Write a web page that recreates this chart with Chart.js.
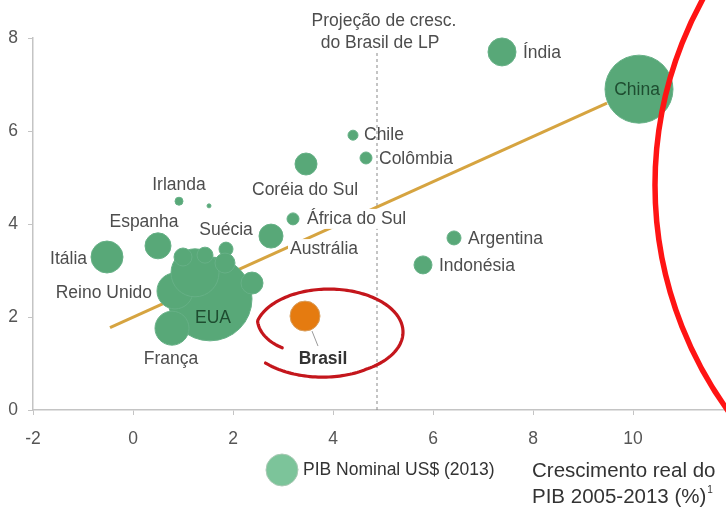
<!DOCTYPE html>
<html>
<head>
<meta charset="utf-8">
<script src="https://cdn.jsdelivr.net/npm/chart.js@4.4.1/dist/chart.umd.min.js"></script>
<style>
  html, body { margin: 0; padding: 0; background: #fff; }
  #wrap { width: 726px; height: 513px; }
</style>
</head>
<body>
<div id="wrap"><canvas id="chart" width="726" height="513"></canvas></div>
<script>
// === Data ===
const countries = ["Índia", "China", "Chile", "Colômbia", "Coréia do Sul", "Irlanda", "",
  "África do Sul", "Austrália", "Suécia", "Espanha", "Itália", "Argentina", "Indonésia",
  "EUA", "França", "Reino Unido", "", "", "", "", ""];
const growthX = [7.38, 10.12, 4.40, 4.66, 3.46, 0.92, 1.52,
  3.20, 2.76, 1.86, 0.50, -0.52, 6.42, 5.80,
  1.54, 0.78, 0.84, 1.24, 1.00, 1.44, 1.84, 2.38];
const growthY = [7.70, 6.90, 5.91, 5.42, 5.29, 4.49, 4.39,
  4.11, 3.74, 3.46, 3.53, 3.29, 3.70, 3.12,
  2.39, 1.76, 2.56, 2.95, 3.29, 3.33, 3.16, 2.73];
const gdpBubble = [14, 34, 5, 6, 11, 4, 2,
  6, 12, 7, 13, 16, 7, 9,
  42, 17, 18, 24, 9, 8, 10, 11];

const brasilX = [3.44];
const brasilY = [2.02];
const brasilBubble = [15];

const trendX = [-0.46, 9.48];
const trendY = [1.77, 6.60];

const projectionX = [4.88, 4.88];
const projectionY = [0, 7.7];

const xTicks = [-2, 0, 2, 4, 6, 8, 10];
const yTicks = [0, 2, 4, 6, 8];

// === Label placement (pixel offsets from each bubble) ===
const labelPos = {
  "Índia": [21, 1, "left"],
  "China": [-2, 1, "center", "inside"],
  "Chile": [11, 0, "left"],
  "Colômbia": [13, 1, "left"],
  "Coréia do Sul": [-54, 26, "left"],
  "Irlanda": [0, -16, "center"],
  "África do Sul": [14, 0, "left", "bg"],
  "Austrália": [19, 13, "left", "bg"],
  "Suécia": [0, -19, "center"],
  "Espanha": [-14, -24, "center"],
  "Itália": [-20, 2, "right"],
  "Reino Unido": [-23, 2, "right"],
  "França": [-1, 31, "center"],
  "EUA": [3, 19, "center", "inside"],
  "Argentina": [14, 1, "left"],
  "Indonésia": [16, 1, "left"],
};

const FONT = "'Liberation Sans', Arial, sans-serif";
const GREEN = "#58a878";
const TEXT = "#4d4d4d";

// === Custom drawing ===
const labelPlugin = {
  id: "countryLabels",
  afterDatasetsDraw(chart) {
    const ctx = chart.ctx;
    const xs = chart.scales.x;
    const ys = chart.scales.y;
    ctx.save();
    ctx.font = "17.5px " + FONT;
    ctx.textBaseline = "middle";
    countries.forEach((name, i) => {
      const pos = labelPos[name];
      if (!name || !pos) return;
      const px = xs.getPixelForValue(growthX[i]) + pos[0];
      const py = ys.getPixelForValue(growthY[i]) + pos[1];
      ctx.textAlign = pos[2];
      if (pos[3] === "bg") {
        const w = ctx.measureText(name).width;
        const left = pos[2] === "left" ? px : pos[2] === "right" ? px - w : px - w / 2;
        ctx.fillStyle = "#fff";
        ctx.fillRect(left - 2, py - 10, w + 4, 20);
      }
      ctx.fillStyle = pos[3] === "inside" ? "#1e4d30" : TEXT;
      ctx.fillText(name, px, py);
    });

    // Brasil label with leader line
    const bx = xs.getPixelForValue(brasilX[0]);
    const by = ys.getPixelForValue(brasilY[0]);
    ctx.strokeStyle = "#9a9a9a";
    ctx.lineWidth = 1;
    ctx.beginPath();
    ctx.moveTo(bx + 7, by + 15);
    ctx.lineTo(bx + 13, by + 30);
    ctx.stroke();
    ctx.font = "bold 17.5px " + FONT;
    ctx.fillStyle = "#333";
    ctx.textAlign = "center";
    ctx.fillText("Brasil", bx + 18, by + 43);

    // projection note above the dashed line
    const lx = xs.getPixelForValue(projectionX[0]);
    ctx.font = "17.5px " + FONT;
    ctx.fillStyle = TEXT;
    ctx.fillText("Projeção de cresc.", lx + 7, 21);
    ctx.fillText("do Brasil de LP", lx + 3, 43);
    ctx.restore();
  },
  afterDraw(chart) {
    const ctx = chart.ctx;
    const xs = chart.scales.x;
    const ys = chart.scales.y;
    ctx.save();

    // hand drawn ring around Brasil
    const cx = xs.getPixelForValue(brasilX[0]) + 24;
    const cy = ys.getPixelForValue(brasilY[0]) + 16;
    ctx.strokeStyle = "#c4161c";
    ctx.lineWidth = 3.2;
    ctx.lineCap = "round";
    ctx.beginPath();
    for (let a = 150; a <= 500; a += 2) {
      let s = 1;
      if (a < 195) s = 0.73 + 0.27 * (a - 150) / 45;
      else if (a > 420) s = 1 + 0.12 * (a - 420) / 80;
      const t = a * Math.PI / 180;
      const x = cx + Math.cos(t) * 74 * s;
      const y = cy + Math.sin(t) * 43 * s;
      if (a === 150) ctx.moveTo(x, y); else ctx.lineTo(x, y);
    }
    ctx.stroke();

    // big red circle on the right edge
    ctx.strokeStyle = "#ff1414";
    ctx.lineWidth = 5.5;
    ctx.beginPath();
    ctx.arc(1040, 185, 385, 0, Math.PI * 2);
    ctx.stroke();

    // bubble size legend
    ctx.fillStyle = "#7cc49a";
    ctx.strokeStyle = "#a9c9b4";
    ctx.lineWidth = 1;
    ctx.beginPath();
    ctx.arc(282, 470, 16, 0, Math.PI * 2);
    ctx.fill();
    ctx.stroke();
    ctx.fillStyle = "#333";
    ctx.font = "17.5px " + FONT;
    ctx.textAlign = "left";
    ctx.textBaseline = "middle";
    ctx.fillText("PIB Nominal US$ (2013)", 303, 470);

    // x axis title
    ctx.font = "20.5px " + FONT;
    ctx.fillText("Crescimento real do", 532, 471);
    ctx.fillText("PIB 2005-2013 (%)", 532, 497);
    const w = ctx.measureText("PIB 2005-2013 (%)").width;
    ctx.font = "10px " + FONT;
    ctx.fillText("1", 533 + w, 490);
    ctx.restore();
  }
};

// === Chart ===
new Chart(document.getElementById("chart"), {
  type: "bubble",
  data: {
    datasets: [
      {
        data: countries.map((c, i) => ({ x: growthX[i], y: growthY[i], r: gdpBubble[i] })),
        backgroundColor: GREEN,
        borderColor: "#66b086",
        borderWidth: 1,
        clip: false,
        order: 1,
      },
      {
        data: brasilX.map((v, i) => ({ x: v, y: brasilY[i], r: brasilBubble[i] })),
        backgroundColor: "#e57b10",
        borderColor: "#d9a060",
        borderWidth: 1,
        clip: false,
        order: 0,
      },
      {
        type: "line",
        data: trendX.map((v, i) => ({ x: v, y: trendY[i] })),
        borderColor: "#d6a440",
        borderWidth: 3,
        pointRadius: 0,
        fill: false,
        order: 3,
      },
      {
        type: "line",
        data: projectionX.map((v, i) => ({ x: v, y: projectionY[i] })),
        borderColor: "#8a8a8a",
        borderWidth: 1,
        borderDash: [3, 3],
        pointRadius: 0,
        fill: false,
        order: 4,
      },
    ],
  },
  options: {
    responsive: false,
    animation: false,
    devicePixelRatio: 1,
    layout: { autoPadding: false, padding: { top: 38, left: 0, right: 0, bottom: 0 } },
    plugins: { legend: { display: false }, tooltip: { enabled: false } },
    scales: {
      x: {
        type: "linear",
        min: -2,
        max: 11.86,
        afterBuildTicks: (scale) => {
          scale.ticks = xTicks.map((v) => ({ value: v }));
        },
        afterFit: (scale) => {
          scale.height = 103;
          scale.paddingLeft = 0;
          scale.paddingRight = 0;
        },
        grid: { drawOnChartArea: false, tickLength: 5, color: "#c4c4c4" },
        border: { color: "#c4c4c4", width: 1.5 },
        ticks: { padding: 14, color: "#555", font: { family: FONT, size: 17.5 } },
      },
      y: {
        min: 0,
        max: 8,
        afterBuildTicks: (scale) => {
          scale.ticks = yTicks.map((v) => ({ value: v }));
        },
        afterFit: (scale) => {
          scale.width = 33;
          scale.paddingTop = 0;
          scale.paddingBottom = 0;
        },
        grid: { drawOnChartArea: false, tickLength: 5, color: "#c4c4c4" },
        border: { color: "#c4c4c4", width: 1.5 },
        ticks: { padding: 10, color: "#555", font: { family: FONT, size: 17.5 } },
      },
    },
  },
  plugins: [labelPlugin],
});
</script>
</body>
</html>
